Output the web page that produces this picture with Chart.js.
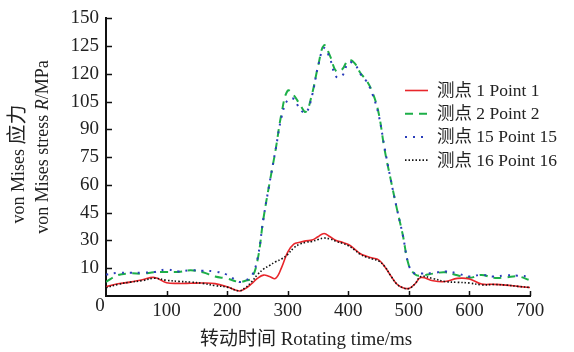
<!DOCTYPE html>
<html>
<head>
<meta charset="utf-8">
<script src="https://cdn.jsdelivr.net/npm/chart.js@4.4.1/dist/chart.umd.min.js"></script>
<style>
  html, body { margin: 0; padding: 0; background: #fff; }
</style>
</head>
<body>
<canvas id="stressChart" width="574" height="352"></canvas>
<script>
// rotating time (ms) shared by all series
const times = [0, 20, 40, 60, 80, 100, 120, 140, 160, 180, 200, 220, 230, 240, 250, 260, 270, 280, 290, 300,
  310, 320, 330, 340, 350, 360, 370, 380, 390, 400, 410, 420, 430, 440, 450, 460, 470, 480, 490, 500,
  510, 520, 540, 560, 580, 600, 620, 640, 660, 680, 700];

// values are in axis units (ticks every 15 units, labelled with yTickLabels)
const point1 = [5.0, 6.6, 7.5, 8.8, 10.0, 7.2, 6.8, 6.9, 7.0, 6.7, 5.0, 2.7, 4.0, 6.5, 9.5, 11.3, 10.5, 9.5, 15.5, 23.7,
  28.0, 29.0, 29.8, 30.2, 32.0, 33.8, 32.0, 30.0, 29.0, 27.8, 25.5, 22.8, 21.5, 20.5, 19.5, 16.0, 11.0, 6.5, 4.5, 4.1,
  6.5, 10.0, 8.2, 7.8, 9.5, 9.2, 6.5, 6.3, 5.9, 5.2, 4.6];
const point2 = [7.6, 11.3, 12.2, 12.1, 12.8, 13.0, 13.0, 13.9, 12.8, 10.5, 9.4, 7.6, 8.2, 9.6, 19.0, 42.0, 61.0, 79.0, 99.0, 111.0,
  108.5, 103.5, 99.5, 109.0, 124.0, 135.5, 129.6, 121.5, 122.5, 127.5, 126.0, 120.5, 116.5, 110.0, 99.0, 79.0, 63.0, 47.5, 33.0, 16.5,
  11.8, 11.0, 12.1, 12.8, 11.2, 9.8, 11.4, 9.8, 10.0, 10.6, 8.5];
const point15 = [11.6, 12.5, 12.6, 12.6, 13.0, 14.3, 13.3, 13.9, 13.6, 13.2, 11.5, 7.6, 8.5, 10.5, 20.0, 42.0, 61.0, 79.0, 97.0, 106.0,
  106.5, 101.0, 99.0, 108.0, 124.0, 134.0, 128.0, 118.5, 119.0, 126.0, 125.5, 120.0, 116.0, 109.0, 98.0, 80.0, 63.0, 47.5, 33.0, 16.5,
  12.0, 12.1, 12.4, 13.3, 12.2, 10.5, 11.5, 10.5, 11.2, 11.0, 10.5];
const point16 = [4.5, 6.3, 7.5, 8.3, 9.6, 8.5, 7.9, 7.5, 6.8, 5.6, 4.8, 2.8, 4.5, 7.5, 11.5, 14.5, 16.5, 18.5, 20.0, 22.5,
  26.0, 28.0, 29.0, 29.5, 30.5, 31.3, 30.8, 29.5, 28.5, 27.2, 25.0, 22.5, 21.0, 20.0, 19.0, 16.0, 11.0, 6.5, 4.5, 4.0,
  6.5, 10.5, 9.4, 7.8, 7.4, 7.0, 6.0, 6.2, 5.9, 5.2, 4.6];

const seriesLabels = ['测点 1 Point 1', '测点 2 Point 2', '测点 15 Point 15', '测点 16 Point 16'];
const yTickLabels = ['0', '10', '30', '45', '60', '75', '90', '105', '120', '125', '150'];
const xTitle = '转动时间 Rotating time/ms';

const FONT = "'Liberation Serif', 'Noto Sans CJK SC', serif";
const toPoints = vals => vals.map((v, i) => ({ x: times[i], y: v }));

// draws a rotated line made of [text, fontPrefix] pieces, centred on (x, y)
function rotatedPieces(ctx, pieces, x, y) {
  ctx.save();
  ctx.translate(x, y);
  ctx.rotate(-Math.PI / 2);
  let total = 0;
  pieces.forEach(p => { ctx.font = p[1] + FONT; total += ctx.measureText(p[0]).width; });
  let cx = -total / 2;
  ctx.textAlign = 'left';
  ctx.textBaseline = 'middle';
  pieces.forEach(p => {
    ctx.font = p[1] + FONT;
    ctx.fillText(p[0], cx, 0);
    cx += ctx.measureText(p[0]).width;
  });
  ctx.restore();
}

// axis titles, inward tick marks, corner "0" and the legend
const extrasPlugin = {
  id: 'extras',
  afterDraw(chart) {
    const ctx = chart.ctx;
    const xs = chart.scales.x, ys = chart.scales.y;
    ctx.save();

    // inward tick marks
    ctx.strokeStyle = '#111';
    ctx.lineWidth = 1.5;
    ctx.beginPath();
    xs.ticks.forEach(t => {
      if (t.value === 0) return;
      const px = Math.round(xs.getPixelForValue(t.value)) + 0.5;
      ctx.moveTo(px, xs.top);
      ctx.lineTo(px, xs.top - 5);
    });
    ys.ticks.forEach(t => {
      if (t.value === 0) return;
      const py = Math.round(ys.getPixelForValue(t.value)) + 0.5;
      ctx.moveTo(ys.right, py);
      ctx.lineTo(ys.right + 6, py);
    });
    ctx.stroke();

    // shared "0" at the corner
    ctx.fillStyle = '#222';
    ctx.font = '19px ' + FONT;
    ctx.textAlign = 'center';
    ctx.textBaseline = 'middle';
    ctx.fillText(yTickLabels[0], ys.right - 6, xs.top + 10);

    // x title
    ctx.font = '19px ' + FONT;
    ctx.fillText(xTitle, 306, 340);

    // y title, two rotated lines, second has italic R
    rotatedPieces(ctx, [['von Mises ', '18px '], ['应力', '20px ']], 19, 164);
    rotatedPieces(ctx, [['von Mises stress ', '18px '], ['R', 'italic 18px '], ['/MPa', '18px ']], 43, 147);

    // legend
    ctx.font = '17.5px ' + FONT;
    ctx.textAlign = 'left';
    ctx.textBaseline = 'middle';
    chart.data.datasets.forEach((ds, i) => {
      const y = 90.5 + i * 23.2;
      ctx.save();
      ctx.strokeStyle = ds.borderColor;
      ctx.lineWidth = ds.borderWidth;
      ctx.setLineDash(ds.borderDash || []);
      ctx.beginPath();
      ctx.moveTo(405, y);
      ctx.lineTo(428, y);
      ctx.stroke();
      ctx.restore();
      ctx.fillStyle = '#222';
      ctx.fillText(ds.label, 437, y + 1);
    });

    ctx.restore();
  }
};

const ctx = document.getElementById('stressChart').getContext('2d');
new Chart(ctx, {
  type: 'line',
  data: {
    datasets: [{
      label: seriesLabels[0],
      data: toPoints(point1),
      borderColor: '#e8262b',
      borderWidth: 1.6,
      order: 2
    }, {
      label: seriesLabels[1],
      data: toPoints(point2),
      borderColor: '#1daf48',
      borderWidth: 2,
      borderDash: [8, 6],
      order: 4
    }, {
      label: seriesLabels[2],
      data: toPoints(point15),
      borderColor: '#2a3dba',
      borderWidth: 2,
      borderDash: [2, 6],
      order: 3
    }, {
      label: seriesLabels[3],
      data: toPoints(point16),
      borderColor: '#111111',
      borderWidth: 1.6,
      borderDash: [1.5, 2],
      order: 1
    }]
  },
  options: {
    responsive: false,
    animation: false,
    devicePixelRatio: 1,
    layout: { padding: { top: 14, right: 44, left: 0, bottom: 0 } },
    elements: {
      point: { radius: 0 },
      line: { tension: 0.4, fill: false }
    },
    plugins: {
      legend: { display: false },
      tooltip: { enabled: false }
    },
    scales: {
      x: {
        type: 'linear',
        min: 0,
        max: 700,
        grid: { display: false, drawTicks: false },
        border: { display: true, color: '#111', width: 2 },
        ticks: {
          stepSize: 100,
          padding: 4,
          color: '#222',
          font: { family: FONT, size: 19 },
          callback: v => (v === 0 ? '' : v)
        },
        afterFit: scale => { scale.height = 56; }
      },
      y: {
        min: 0,
        max: 150,
        grid: { display: false, drawTicks: false },
        border: { display: true, color: '#111', width: 2 },
        ticks: {
          stepSize: 15,
          padding: 7,
          color: '#222',
          font: { family: FONT, size: 19 },
          callback: (v, i) => (i === 0 ? '' : yTickLabels[i])
        },
        afterFit: scale => { scale.width = 106; }
      }
    }
  },
  plugins: [extrasPlugin]
});
</script>
</body>
</html>
